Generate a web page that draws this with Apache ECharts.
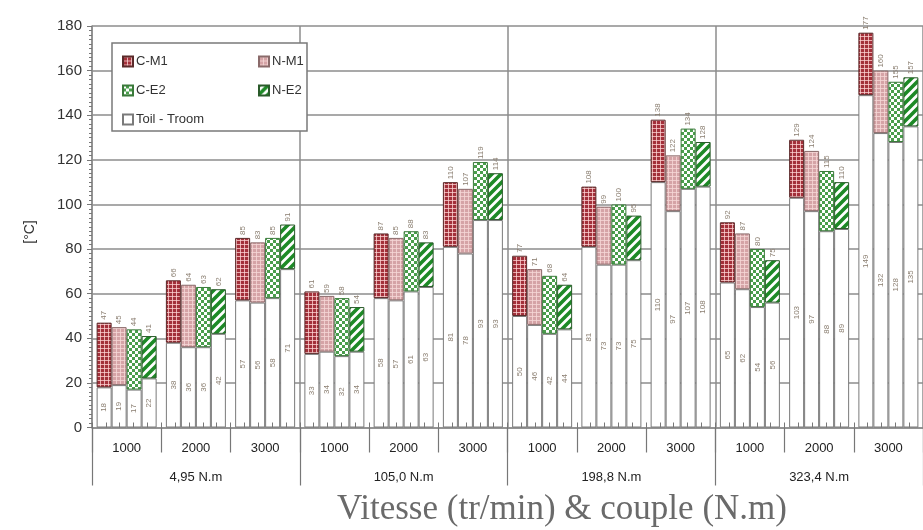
<!DOCTYPE html>
<html>
<head>
<meta charset="utf-8">
<script src="https://cdn.jsdelivr.net/npm/echarts@6/dist/echarts.min.js"></script>
<style>html,body{margin:0;padding:0;background:#fff}#c{width:923px;height:530px}</style>
</head>
<body>
<div id="c"></div>
<script>
// ---- data ----
const speeds = ['1000','2000','3000','1000','2000','3000','1000','2000','3000','1000','2000','3000'];
const torques = ['4,95 N.m','105,0 N.m','198,8 N.m','323,4 N.m'];
const seriesNames = ['C-M1','N-M1','C-E2','N-E2'];
const baseName = 'Toil - Troom';
// total temperature (top label)
const totalCM1 = [47, 66, 85, 61, 87, 110, 77, 108, 138, 92, 129, 177];
const totalNM1 = [45, 64, 83, 59, 85, 107, 71, 99, 122, 87, 124, 160];
const totalCE2 = [44, 63, 85, 58, 88, 119, 68, 100, 134, 80, 115, 155];
const totalNE2 = [41, 62, 91, 54, 83, 114, 64, 95, 128, 75, 110, 157];
// Toil - Troom (white part)
const baseCM1 = [18, 38, 57, 33, 58, 81, 50, 81, 110, 65, 103, 149];
const baseNM1 = [19, 36, 56, 34, 57, 78, 46, 73, 97, 62, 97, 132];
const baseCE2 = [17, 36, 58, 32, 61, 93, 42, 73, 107, 54, 88, 128];
const baseNE2 = [22, 42, 71, 34, 63, 93, 44, 75, 108, 56, 89, 135];
const yTicks = {min: 0, max: 180, step: 20};

const totals = [totalCM1, totalNM1, totalCE2, totalNE2];
const bases = [baseCM1, baseNM1, baseCE2, baseNE2];

// ---- patterns ----
function tile(w, h, draw) {
  const c = document.createElement('canvas');
  c.width = w; c.height = h;
  draw(c.getContext('2d'), w, h);
  return {image: c, repeat: 'repeat'};
}
const patCM1 = tile(4, 4, (g, w, h) => {
  g.fillStyle = '#a3303a'; g.fillRect(0, 0, w, h);
  g.fillStyle = 'rgba(255,215,215,0.75)';
  g.fillRect(0, 0, w, 1); g.fillRect(0, 0, 1, h);
});
const patNM1 = tile(4, 4, (g, w, h) => {
  g.fillStyle = '#d5a3a6'; g.fillRect(0, 0, w, h);
  g.fillStyle = 'rgba(245,215,215,0.8)';
  g.fillRect(0, 0, w, 1); g.fillRect(0, 0, 1, h);
});
const patCE2 = tile(6, 6, (g, w, h) => {
  g.fillStyle = '#4a9e4c'; g.fillRect(0, 0, w, h);
  g.fillStyle = '#ffffff';
  g.fillRect(0, 0, 3, 3); g.fillRect(3, 3, 3, 3);
});
const patNE2 = tile(9, 9, (g, s) => {
  g.fillStyle = '#ffffff'; g.fillRect(0, 0, s, s);
  g.strokeStyle = '#1d8a26'; g.lineWidth = 3.6;
  g.beginPath();
  g.moveTo(0, s); g.lineTo(s, 0);
  g.moveTo(-2, 2); g.lineTo(2, -2);
  g.moveTo(s - 2, s + 2); g.lineTo(s + 2, s - 2);
  g.stroke();
});
const patterns = [patCM1, patNM1, patCE2, patNE2];
const borders = ['#5a2a2a', '#8a6a6a', '#3a7a3a', '#2a5a2a'];

const gridColor = '#8c8c8c';
const series = [];
for (let i = 0; i < 4; i++) {
  series.push({
    name: baseName, type: 'bar', stack: 's' + i, barWidth: 15, barGap: '0%',
    data: bases[i],
    itemStyle: {color: '#ffffff', borderColor: '#7a7a7a', borderWidth: 1},
    label: {show: true, position: 'inside', rotate: 90, fontSize: 8, color: '#8a7e70',
      fontFamily: 'Liberation Sans'},
    z: 3
  });
  series.push({
    name: seriesNames[i], type: 'bar', stack: 's' + i, barWidth: 15, barGap: '0%',
    data: totals[i].map((t, k) => t - bases[i][k]),
    itemStyle: {color: patterns[i], borderColor: borders[i], borderWidth: 1},
    label: {show: true, position: 'top', rotate: 90, align: 'left', verticalAlign: 'middle',
      distance: 3, fontSize: 8, color: '#8a7e70', fontFamily: 'Liberation Sans',
      formatter: p => String(totals[i][p.dataIndex])},
    z: 3
  });
}

const legendBase = {
  orient: 'horizontal', itemWidth: 10, itemHeight: 10, icon: 'rect', z: 20,
  textStyle: {fontSize: 13, color: '#333', fontFamily: 'Liberation Sans', padding: [0, 0, 0, -2]},
  selectedMode: false
};
const legends = [
  Object.assign({}, legendBase, {data: ['C-M1'], left: 117, top: 50}),
  Object.assign({}, legendBase, {data: ['N-M1'], left: 253, top: 50}),
  Object.assign({}, legendBase, {data: ['C-E2'], left: 117, top: 79}),
  Object.assign({}, legendBase, {data: ['N-E2'], left: 253, top: 79}),
  Object.assign({}, legendBase, {data: [baseName], left: 117, top: 108})
];

const chart = echarts.init(document.getElementById('c'), null, {renderer: 'canvas'});
chart.setOption({
  backgroundColor: '#ffffff',
  animation: false,
  grid: {left: 92, top: 26, width: 836, height: 401.5, containLabel: false},
  legend: legends,
  xAxis: [
    {type: 'category', data: speeds, position: 'bottom',
      axisLine: {show: true, lineStyle: {color: gridColor, width: 1.5}},
      axisTick: {show: true, length: 25, interval: 0, lineStyle: {color: '#777', width: 1.2}},
      axisLabel: {interval: 0, margin: 14, fontSize: 13, color: '#222', fontFamily: 'Liberation Sans'},
      splitLine: {show: false}},
    {type: 'category', data: torques, position: 'bottom',
      axisLine: {show: false},
      axisTick: {show: true, length: 58, interval: 0, lineStyle: {color: '#777', width: 1.2}},
      axisLabel: {interval: 0, margin: 43, fontSize: 13, color: '#222', fontFamily: 'Liberation Sans'},
      splitLine: {show: true, interval: 0, lineStyle: {color: gridColor, width: 1.5}}},
    {type: 'value', min: 0, max: 60, interval: 1, position: 'bottom', z: 10,
      axisLine: {show: false},
      axisTick: {show: true, inside: true, length: 5, lineStyle: {color: '#777', width: 1}},
      axisLabel: {show: false}, splitLine: {show: false}}
  ],
  yAxis: {
    type: 'value', min: yTicks.min, max: yTicks.max, interval: yTicks.step,
    axisLine: {show: true, lineStyle: {color: gridColor, width: 1.5}},
    axisTick: {show: true, length: 5, lineStyle: {color: '#777'}},
    minorTick: {show: true, splitNumber: 10, length: 3, lineStyle: {color: '#777'}},
    axisLabel: {fontSize: 15, color: '#333', margin: 10, fontFamily: 'Liberation Sans'},
    splitLine: {show: true, lineStyle: {color: gridColor, width: 1.5}}
  },
  graphic: [
    {type: 'rect', z: 15, shape: {x: 112, y: 43, width: 195, height: 88},
      style: {fill: '#ffffff', stroke: '#7a7a7a', lineWidth: 1.5}},
    {type: 'text', z: 15, x: 30, y: 232, rotation: Math.PI / 2,
      style: {text: '[°C]', fontSize: 14, fill: '#333', fontFamily: 'Liberation Sans',
        textAlign: 'center', textVerticalAlign: 'middle'}},
    {type: 'text', z: 15, x: 562, y: 510,
      style: {text: 'Vitesse (tr/min) & couple (N.m)', fontSize: 35, fill: '#6a6a6a',
        fontFamily: 'Liberation Serif', textAlign: 'center', textVerticalAlign: 'middle'}}
  ],
  series: series
});
</script>
</body>
</html>
